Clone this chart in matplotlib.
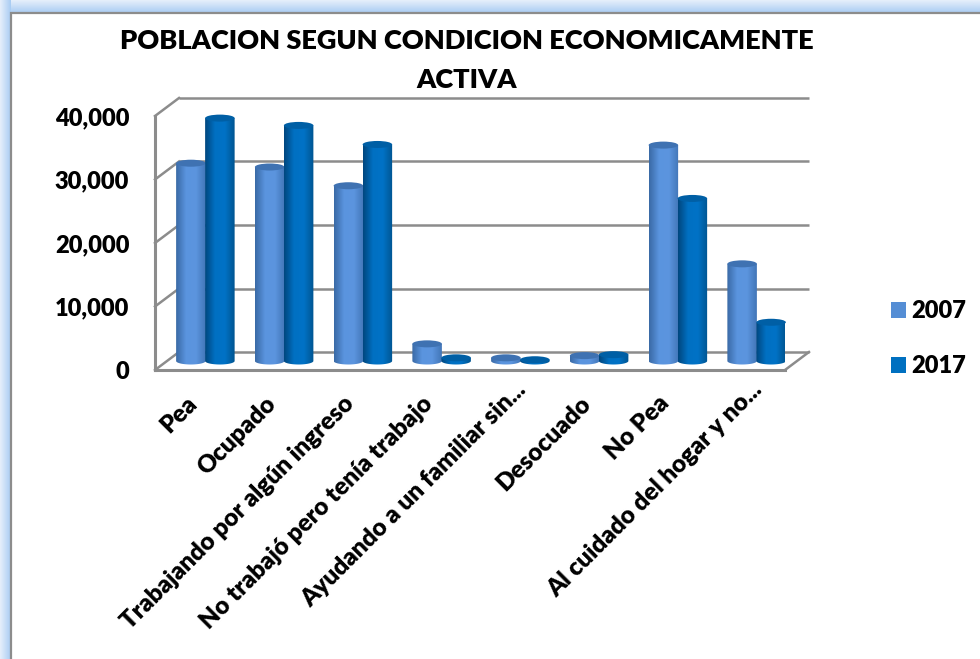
import numpy as np
import matplotlib
matplotlib.use('Agg')
import matplotlib.pyplot as plt
from matplotlib.colors import LinearSegmentedColormap
from matplotlib.patches import Ellipse, Patch
from matplotlib.path import Path
from matplotlib.ticker import StrMethodFormatter
from matplotlib.transforms import ScaledTranslation

categories = ['Pea', 'Ocupado', 'Trabajando por algún ingreso', 'No trabajó pero tenía trabajo',
              'Ayudando a un familiar sin...', 'Desocuado', 'No Pea', 'Al cuidado del hogar y no...']
values_2007 = [31150, 30550, 27600, 2700, 500, 850, 34000, 15300]
values_2017 = [38250, 37100, 34100, 500, 200, 1000, 25600, 6100]
y_ticks = [0, 10000, 20000, 30000, 40000]
title = 'POBLACION SEGUN CONDICION ECONOMICAMENTE\nACTIVA'

W, H = 980, 659
plt.rcParams['font.family'] = ['Lato', 'DejaVu Sans']
plt.rcParams['font.weight'] = 800
fig = plt.figure(figsize=(W / 100, H / 100), dpi=100, facecolor='white')

# blue window frame at the top and left
bg = fig.add_axes([0, 0, 1, 1], zorder=0)
bg.set_axis_off()
frame = LinearSegmentedColormap.from_list('frame', ['#e6effb', '#a9ccf3'])
bg.imshow(np.linspace(0, 1, 32)[:, None], extent=[0, W, 13, 0], cmap=frame, aspect='auto')
bg.imshow(np.linspace(0, 1, 32)[None, :], extent=[0, 10, H, 0], cmap=frame, aspect='auto')
bg.plot([10.5, 10.5, W], [H, 13, 13], color='#8c8c8c', lw=1.6, solid_joinstyle='miter')
bg.set_xlim(0, W)
bg.set_ylim(H, 0)

# front plane of the 3d box
left, right, bottom, top = 155, 785, 370, 116
ax = fig.add_axes([left / W, 1 - bottom / H, (right - left) / W, (bottom - top) / H], zorder=1)
ax.patch.set_alpha(0)
n = len(categories)
px_x = n / (right - left)
px_y = 40000 / (bottom - top)

wall_color = '#8c8c8c'
wall_dx, wall_dy = 24, 18
wall_tr = ax.transData + ScaledTranslation(wall_dx / 100, wall_dy / 100, fig.dpi_scale_trans)
bar_tr = ax.transData + ScaledTranslation(11 / 100, 9 / 100, fig.dpi_scale_trans)

ax.hlines(y_ticks, -0.5, n - 0.5, color=wall_color, lw=1.8, transform=wall_tr, clip_on=False, zorder=1)
for v in y_ticks:
    ax.plot([-0.5, -0.5 + wall_dx * px_x], [v, v + wall_dy * px_y], color=wall_color, lw=1.8,
            clip_on=False, zorder=1)
ax.plot([n - 0.5, n - 0.5 + wall_dx * px_x], [0, wall_dy * px_y], color=wall_color, lw=1.8,
        clip_on=False, zorder=1)

cmap_2007 = LinearSegmentedColormap.from_list('c07', ['#3a6aa6', '#5a94de', '#5c95df', '#4276b8'])
cmap_2017 = LinearSegmentedColormap.from_list('c17', ['#00477f', '#0070c2', '#0072c6', '#005591'])
grad = np.linspace(0, 1, 64)[None, :]
bar_w = 29.5 * px_x
cap_h = 7 * px_y


def cylinder(x, v, cmap, top_color, z):
    t = np.linspace(np.pi, 2 * np.pi, 30)
    xs = x + bar_w / 2 * np.cos(t)
    ys = cap_h / 2 * np.sin(t)
    verts = np.column_stack([np.r_[xs, x + bar_w / 2, x - bar_w / 2], np.r_[ys, v, v]])
    outline = Path(np.vstack([verts, verts[0]]), closed=True)
    im = ax.imshow(grad, cmap=cmap, aspect='auto', zorder=z, transform=bar_tr,
                   extent=[x - bar_w / 2, x + bar_w / 2, -cap_h, v + cap_h])
    im.set_clip_path(outline, bar_tr)
    ax.add_patch(Ellipse((x, v), bar_w, cap_h, transform=bar_tr, facecolor=top_color,
                         edgecolor='none', zorder=z + 0.1, clip_on=False))


for i in range(n):
    cylinder(i - 14.5 * px_x, values_2007[i], cmap_2007, '#3f72b2', 2 + i * 0.01)
    cylinder(i + 14.5 * px_x, values_2017[i], cmap_2017, '#005fa5', 3 + i * 0.01)

ax.set_xlim(-0.5, n - 0.5)
ax.set_ylim(0, 40000)
for s in ['top', 'right']:
    ax.spines[s].set_visible(False)
for s in ['left', 'bottom']:
    ax.spines[s].set_color(wall_color)
    ax.spines[s].set_linewidth(2.2)
ax.spines['bottom'].set_zorder(5)

ax.set_yticks(y_ticks)
ax.yaxis.set_major_formatter(StrMethodFormatter('{x:,.0f}'))
ax.tick_params(axis='y', length=0, pad=18.5, labelsize=17)
ax.set_xticks(range(n))
ax.set_xticklabels(categories, rotation=45, ha='right', va='center', rotation_mode='anchor', fontsize=17.6)
ax.tick_params(axis='x', length=0, pad=0)
for lab in ax.get_xticklabels():
    # the truncated labels stick out further along the diagonal
    extra = 14 if lab.get_text().endswith('...') else 0
    shift = ScaledTranslation((-1 + extra) / 100, (-30 + extra) / 100, fig.dpi_scale_trans)
    lab.set_transform(lab.get_transform() + shift)

fig.text(467 / W, 1 - 60.5 / H, title, ha='center', va='center', fontsize=19.5, fontweight=800,
         linespacing=1.77, color='black')

handles = [Patch(facecolor='#558ed5', label='2007'), Patch(facecolor='#0070c0', label='2017')]
fig.legend(handles=handles, loc='center left', bbox_to_anchor=(891 / W, 1 - 338.5 / H), frameon=False,
           fontsize=17, handlelength=0.65, handleheight=0.65, handletextpad=0.2, labelspacing=1.4,
           borderpad=0, borderaxespad=0)

fig.savefig('out.png', dpi=100)
